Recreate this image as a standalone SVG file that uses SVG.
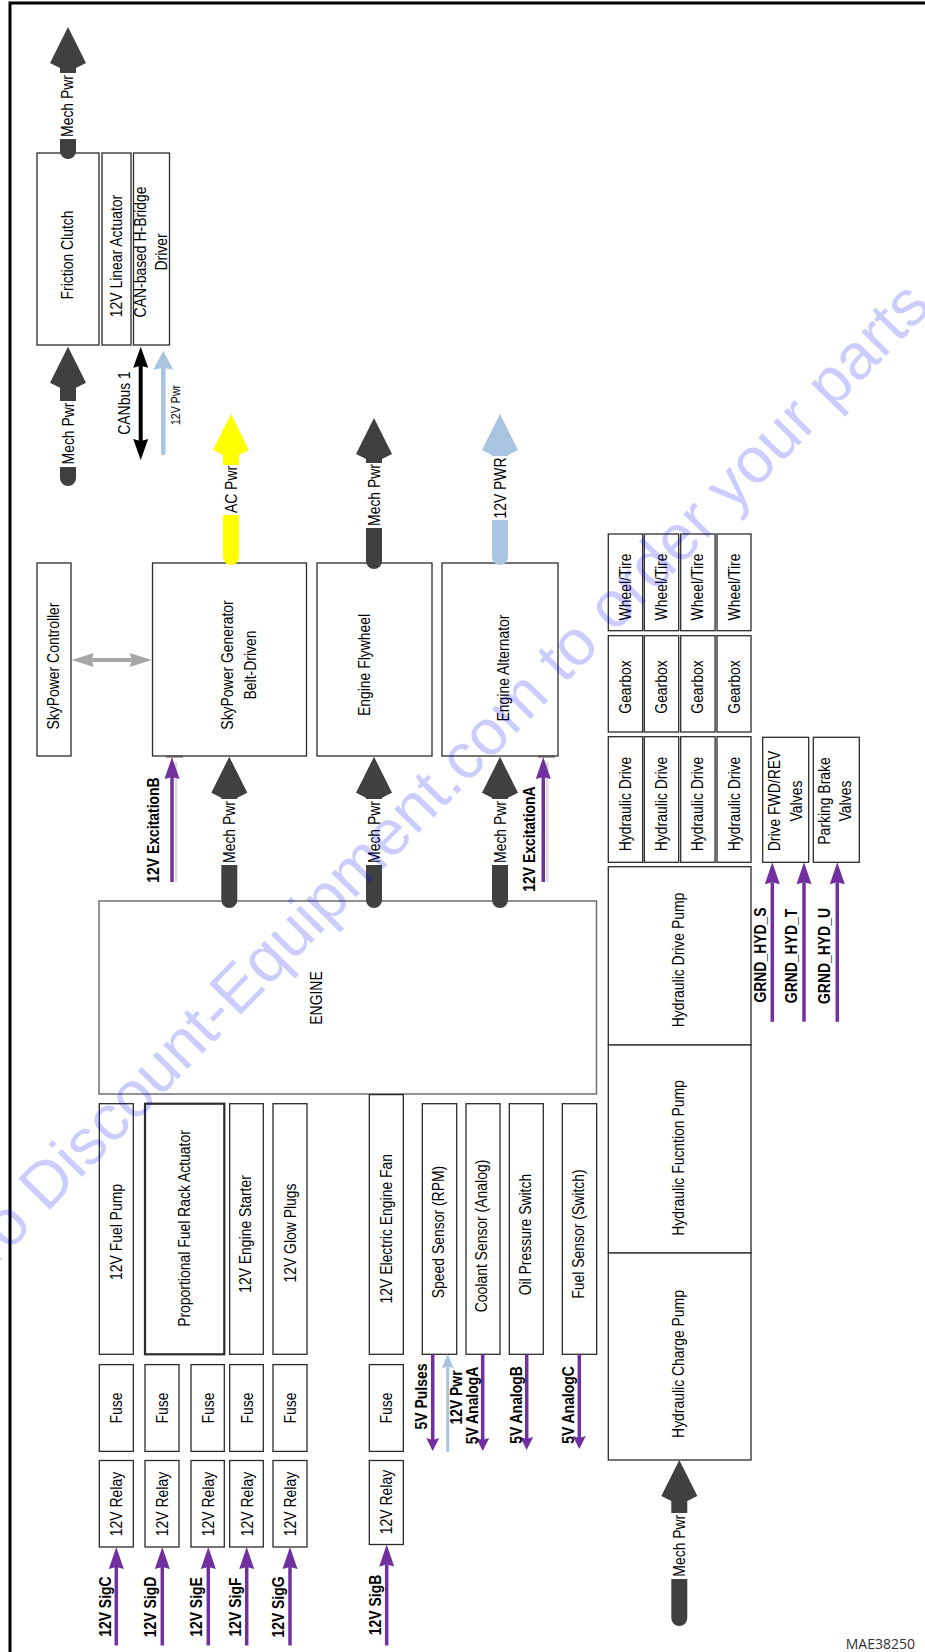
<svg xmlns="http://www.w3.org/2000/svg" width="925" height="1652" viewBox="0 0 925 1652">
<style>
.box{fill:#fff;stroke:#2b2b2b;stroke-width:1.3}
.eng{fill:#fff;stroke:#6e6e6e;stroke-width:1.5}
.t{font-family:"Liberation Sans",Arial,sans-serif;font-size:17px;fill:#000;text-anchor:middle}
.b{font-weight:bold}
.s{font-size:13px}
.fat{fill:none;stroke-width:16;stroke-linecap:round}
.dk{stroke:#404040}
.yl{stroke:#ffff00}
.bl{stroke:#a9c4e0}
.pu{fill:none;stroke:#7030a0;stroke-width:3.5}
.bg{fill:#fff}
.wm{font-family:"Liberation Sans",Arial,sans-serif;font-size:64.6px;fill:#0000ff;fill-opacity:0.2}
</style>
<defs>
<marker id="fatDk" markerUnits="userSpaceOnUse" orient="auto" viewBox="-2 -20 46 40" markerWidth="46" markerHeight="40" refX="0" refY="0"><path d="M41,0 L5,-18 L0,-8 L0,8 L5,18 Z" fill="#404040"/></marker>
<marker id="fatYl" markerUnits="userSpaceOnUse" orient="auto" viewBox="-2 -20 46 40" markerWidth="46" markerHeight="40" refX="0" refY="0"><path d="M41,0 L5,-18 L0,-8 L0,8 L5,18 Z" fill="#ffff00"/></marker>
<marker id="fatBl" markerUnits="userSpaceOnUse" orient="auto" viewBox="-2 -20 46 40" markerWidth="46" markerHeight="40" refX="0" refY="0"><path d="M41,0 L5,-18 L0,-8 L0,8 L5,18 Z" fill="#a9c4e0"/></marker>
<marker id="pu" markerUnits="userSpaceOnUse" orient="auto" viewBox="-4 -10 26 20" markerWidth="26" markerHeight="20" refX="0" refY="0"><path d="M20,0 L-2,-7.5 L0,0 L-2,7.5 Z" fill="#7030a0"/></marker>
<marker id="puS" markerUnits="userSpaceOnUse" orient="auto" viewBox="-4 -10 26 20" markerWidth="26" markerHeight="20" refX="0" refY="0"><path d="M11,0 L-2,-6.5 L0,0 L-2,6.5 Z" fill="#7030a0"/></marker>
<marker id="blS" markerUnits="userSpaceOnUse" orient="auto" viewBox="-4 -10 26 20" markerWidth="26" markerHeight="20" refX="0" refY="0"><path d="M12,0 L-2,-6 L0,0 L-2,6 Z" fill="#a9c4e0"/></marker>
<marker id="blM" markerUnits="userSpaceOnUse" orient="auto" viewBox="-4 -12 26 24" markerWidth="26" markerHeight="24" refX="0" refY="0"><path d="M17,0 L-2,-10 L0,0 L-2,10 Z" fill="#a9c4e0"/></marker>
<marker id="blk" markerUnits="userSpaceOnUse" orient="auto-start-reverse" viewBox="-4 -10 26 20" markerWidth="26" markerHeight="20" refX="0" refY="0"><path d="M19,0 L-2,-7.5 L0,0 L-2,7.5 Z" fill="#000"/></marker>
<marker id="gry" markerUnits="userSpaceOnUse" orient="auto-start-reverse" viewBox="-4 -10 26 20" markerWidth="26" markerHeight="20" refX="0" refY="0"><path d="M20,0 L-2,-7 L0,0 L-2,7 Z" fill="#a6a6a6"/></marker>
</defs>

<path d="M10,1652 V3 H925" fill="none" stroke="#000" stroke-width="3"/>

<g id="friction-clutch"><rect class="box" x="37" y="153" width="62" height="192"/><text class="t" transform="translate(67,255) rotate(-90) scale(.82,1)" y="6.1">Friction Clutch</text></g>
<g id="linear-actuator"><rect class="box" x="102" y="153" width="29" height="192"/><text class="t" transform="translate(116.3,256) rotate(-90) scale(.82,1)" y="6.1">12V Linear Actuator</text></g>
<g id="hbridge-driver"><rect class="box" x="133.5" y="153" width="36" height="192"/><text class="t" transform="translate(139.4,252) rotate(-90) scale(.82,1)" y="6.1">CAN-based H-Bridge</text><text class="t" transform="translate(161.1,252) rotate(-90) scale(.82,1)" y="6.1">Driver</text></g>
<g id="skypower-controller"><rect class="box" x="37" y="563" width="34" height="193"/><text class="t" transform="translate(53,666) rotate(-90) scale(.82,1)" y="6.1">SkyPower Controller</text></g>
<g id="skypower-generator"><rect class="box" x="152.5" y="563" width="154" height="193"/><text class="t" transform="translate(226.8,665) rotate(-90) scale(.82,1)" y="6.1">SkyPower Generator</text><text class="t" transform="translate(249.4,665) rotate(-90) scale(.82,1)" y="6.1">Belt-Driven</text></g>
<g id="engine-flywheel"><rect class="box" x="317" y="563" width="115" height="193"/><text class="t" transform="translate(363.4,665) rotate(-90) scale(.82,1)" y="6.1">Engine Flywheel</text></g>
<g id="engine-alternator"><rect class="box" x="442" y="563" width="116" height="193"/><text class="t" transform="translate(502.8,668) rotate(-90) scale(.82,1)" y="6.1">Engine Alternator</text></g>
<g id="engine"><rect class="eng" x="99" y="901" width="497.5" height="193"/><text class="t" transform="translate(316,998) rotate(-90) scale(.82,1)" y="6.1">ENGINE</text></g>

<g id="wheel-1"><rect class="box" x="608.3" y="534" width="34.4" height="96.7"/><text class="t" transform="translate(625,587) rotate(-90) scale(.82,1)" y="6.1">Wheel/Tire</text></g>
<g id="wheel-2"><rect class="box" x="644.3" y="534" width="34.4" height="96.7"/><text class="t" transform="translate(661,587) rotate(-90) scale(.82,1)" y="6.1">Wheel/Tire</text></g>
<g id="wheel-3"><rect class="box" x="680.7" y="534" width="34.4" height="96.7"/><text class="t" transform="translate(697.2,587) rotate(-90) scale(.82,1)" y="6.1">Wheel/Tire</text></g>
<g id="wheel-4"><rect class="box" x="717" y="534" width="34" height="96.7"/><text class="t" transform="translate(733.4,587) rotate(-90) scale(.82,1)" y="6.1">Wheel/Tire</text></g>
<g id="gearbox-1"><rect class="box" x="608.3" y="635.7" width="34.4" height="96.3"/><text class="t" transform="translate(625,687) rotate(-90) scale(.82,1)" y="6.1">Gearbox</text></g>
<g id="gearbox-2"><rect class="box" x="644.3" y="635.7" width="34.4" height="96.3"/><text class="t" transform="translate(661,687) rotate(-90) scale(.82,1)" y="6.1">Gearbox</text></g>
<g id="gearbox-3"><rect class="box" x="680.7" y="635.7" width="34.4" height="96.3"/><text class="t" transform="translate(697.2,687) rotate(-90) scale(.82,1)" y="6.1">Gearbox</text></g>
<g id="gearbox-4"><rect class="box" x="717" y="635.7" width="34" height="96.3"/><text class="t" transform="translate(733.4,687) rotate(-90) scale(.82,1)" y="6.1">Gearbox</text></g>
<g id="hyd-drive-1"><rect class="box" x="608.3" y="736.7" width="34.4" height="125.6"/><text class="t" transform="translate(625,804) rotate(-90) scale(.82,1)" y="6.1">Hydraulic Drive</text></g>
<g id="hyd-drive-2"><rect class="box" x="644.3" y="736.7" width="34.4" height="125.6"/><text class="t" transform="translate(661,804) rotate(-90) scale(.82,1)" y="6.1">Hydraulic Drive</text></g>
<g id="hyd-drive-3"><rect class="box" x="680.7" y="736.7" width="34.4" height="125.6"/><text class="t" transform="translate(697.2,804) rotate(-90) scale(.82,1)" y="6.1">Hydraulic Drive</text></g>
<g id="hyd-drive-4"><rect class="box" x="717" y="736.7" width="34" height="125.6"/><text class="t" transform="translate(733.4,804) rotate(-90) scale(.82,1)" y="6.1">Hydraulic Drive</text></g>
<g id="drive-valves"><rect class="box" x="762.7" y="737.3" width="46" height="125"/><text class="t" transform="translate(773.8,801) rotate(-90) scale(.82,1)" y="6.1">Drive FWD/REV</text><text class="t" transform="translate(795.4,801) rotate(-90) scale(.82,1)" y="6.1">Valves</text></g>
<g id="parking-valves"><rect class="box" x="813.3" y="737.3" width="46" height="125"/><text class="t" transform="translate(824.1,801) rotate(-90) scale(.82,1)" y="6.1">Parking Brake</text><text class="t" transform="translate(845.1,801) rotate(-90) scale(.82,1)" y="6.1">Valves</text></g>
<g id="hyd-drive-pump"><rect class="box" x="608.3" y="866.7" width="142.7" height="178.3"/><text class="t" transform="translate(678,960) rotate(-90) scale(.82,1)" y="6.1">Hydraulic Drive Pump</text></g>
<g id="hyd-function-pump"><rect class="box" x="608.3" y="1045" width="142.7" height="208"/><text class="t" transform="translate(678,1158) rotate(-90) scale(.82,1)" y="6.1">Hydraulic Fucntion Pump</text></g>
<g id="hyd-charge-pump"><rect class="box" x="608.3" y="1253" width="142.7" height="207"/><text class="t" transform="translate(678,1364) rotate(-90) scale(.82,1)" y="6.1">Hydraulic Charge Pump</text></g>

<g id="fuel-pump"><rect class="box" x="99.3" y="1103.7" width="34" height="250.6"/><text class="t" transform="translate(115.5,1232) rotate(-90) scale(.82,1)" y="6.1">12V Fuel Pump</text></g>
<g id="fuel-rack-actuator"><rect class="box" x="145" y="1103.7" width="79.3" height="250.6" style="stroke-width:2.2"/><text class="t" transform="translate(183.5,1228.5) rotate(-90) scale(.82,1)" y="6.1">Proportional Fuel Rack Actuator</text></g>
<g id="engine-starter"><rect class="box" x="229.7" y="1103.7" width="33.6" height="250.6"/><text class="t" transform="translate(245,1234) rotate(-90) scale(.82,1)" y="6.1">12V Engine Starter</text></g>
<g id="glow-plugs"><rect class="box" x="273" y="1103.7" width="34" height="250.6"/><text class="t" transform="translate(289.4,1233) rotate(-90) scale(.82,1)" y="6.1">12V Glow Plugs</text></g>
<g id="engine-fan"><rect class="box" x="369.3" y="1094.6" width="34" height="259.7"/><text class="t" transform="translate(385.4,1228.7) rotate(-90) scale(.82,1)" y="6.1">12V Electric Engine Fan</text></g>
<g id="speed-sensor"><rect class="box" x="422.3" y="1103.7" width="34.4" height="250.6"/><text class="t" transform="translate(437.8,1232) rotate(-90) scale(.82,1)" y="6.1">Speed Sensor (RPM)</text></g>
<g id="coolant-sensor"><rect class="box" x="466" y="1103.7" width="34" height="250.6"/><text class="t" transform="translate(481,1236) rotate(-90) scale(.82,1)" y="6.1">Coolant Sensor (Analog)</text></g>
<g id="oil-pressure-switch"><rect class="box" x="509.3" y="1103.7" width="34" height="250.6"/><text class="t" transform="translate(524.4,1234.6) rotate(-90) scale(.82,1)" y="6.1">Oil Pressure Switch</text></g>
<g id="fuel-sensor"><rect class="box" x="562.3" y="1103.7" width="34.4" height="250.6"/><text class="t" transform="translate(577.8,1234) rotate(-90) scale(.82,1)" y="6.1">Fuel Sensor (Switch)</text></g>

<g id="fuse-c"><rect class="box" x="99.3" y="1364.6" width="34" height="86.8"/><text class="t" transform="translate(116.3,1408) rotate(-90) scale(.82,1)" y="6.1">Fuse</text></g>
<g id="fuse-d"><rect class="box" x="145" y="1364.6" width="34" height="86.8"/><text class="t" transform="translate(162,1408) rotate(-90) scale(.82,1)" y="6.1">Fuse</text></g>
<g id="fuse-e"><rect class="box" x="191" y="1364.6" width="33.3" height="86.8"/><text class="t" transform="translate(207.6,1408) rotate(-90) scale(.82,1)" y="6.1">Fuse</text></g>
<g id="fuse-f"><rect class="box" x="229.7" y="1364.6" width="33.6" height="86.8"/><text class="t" transform="translate(246.5,1408) rotate(-90) scale(.82,1)" y="6.1">Fuse</text></g>
<g id="fuse-g"><rect class="box" x="273" y="1364.6" width="34" height="86.8"/><text class="t" transform="translate(290,1408) rotate(-90) scale(.82,1)" y="6.1">Fuse</text></g>
<g id="fuse-b"><rect class="box" x="369.3" y="1364.6" width="34" height="86.8"/><text class="t" transform="translate(386.3,1408) rotate(-90) scale(.82,1)" y="6.1">Fuse</text></g>
<g id="relay-c"><rect class="box" x="99.3" y="1460.5" width="34" height="86.5"/><text class="t" transform="translate(116.3,1504) rotate(-90) scale(.82,1)" y="6.1">12V Relay</text></g>
<g id="relay-d"><rect class="box" x="145" y="1460.5" width="34" height="86.5"/><text class="t" transform="translate(162,1504) rotate(-90) scale(.82,1)" y="6.1">12V Relay</text></g>
<g id="relay-e"><rect class="box" x="191" y="1460.5" width="33.3" height="86.5"/><text class="t" transform="translate(207.6,1504) rotate(-90) scale(.82,1)" y="6.1">12V Relay</text></g>
<g id="relay-f"><rect class="box" x="229.7" y="1460.5" width="33.6" height="86.5"/><text class="t" transform="translate(246.5,1504) rotate(-90) scale(.82,1)" y="6.1">12V Relay</text></g>
<g id="relay-g"><rect class="box" x="273" y="1460.5" width="34" height="86.5"/><text class="t" transform="translate(290,1504) rotate(-90) scale(.82,1)" y="6.1">12V Relay</text></g>
<g id="relay-b"><rect class="box" x="369.3" y="1460.5" width="34" height="84"/><text class="t" transform="translate(386.3,1502) rotate(-90) scale(.82,1)" y="6.1">12V Relay</text></g>

<g id="connectors">
<path class="fat dk" d="M68,151 V68" marker-end="url(#fatDk)"/>
<rect class="bg" x="58" y="73" width="20" height="66"/>
<text class="t" transform="translate(67,106) rotate(-90) scale(.82,1)" y="6.1">Mech Pwr</text>

<path class="fat dk" d="M68,478 V387.7" marker-end="url(#fatDk)"/>
<rect class="bg" x="58" y="401" width="20" height="66"/>
<text class="t" transform="translate(68,433.5) rotate(-90) scale(.82,1)" y="6.1">Mech Pwr</text>

<path class="fat yl" d="M231,557 V455" marker-end="url(#fatYl)"/>
<rect class="bg" x="221" y="465" width="20" height="50"/>
<text class="t" transform="translate(230.5,489.5) rotate(-90) scale(.82,1)" y="6.1">AC Pwr</text>

<path class="fat dk" d="M374,561 V459" marker-end="url(#fatDk)"/>
<rect class="bg" x="364" y="463" width="20" height="65"/>
<text class="t" transform="translate(373.5,495) rotate(-90) scale(.82,1)" y="6.1">Mech Pwr</text>

<path class="fat bl" d="M500,557 V455" marker-end="url(#fatBl)"/>
<rect class="bg" x="490" y="456" width="20" height="64"/>
<text class="t" transform="translate(499.5,488) rotate(-90) scale(.82,1)" y="6.1">12V PWR</text>

<path class="fat dk" d="M229.3,900 V797.7" marker-end="url(#fatDk)"/>
<rect class="bg" x="219" y="799" width="20" height="66"/>
<text class="t" transform="translate(229,832) rotate(-90) scale(.82,1)" y="6.1">Mech Pwr</text>

<path class="fat dk" d="M374,900 V797.7" marker-end="url(#fatDk)"/>
<rect class="bg" x="364" y="799" width="20" height="66"/>
<text class="t" transform="translate(373.7,832) rotate(-90) scale(.82,1)" y="6.1">Mech Pwr</text>

<path class="fat dk" d="M500,900 V797.7" marker-end="url(#fatDk)"/>
<rect class="bg" x="490" y="799" width="20" height="66"/>
<text class="t" transform="translate(499.7,832) rotate(-90) scale(.82,1)" y="6.1">Mech Pwr</text>

<path class="fat dk" d="M679.3,1618 V1501" marker-end="url(#fatDk)"/>
<rect class="bg" x="669" y="1513" width="20" height="66"/>
<text class="t" transform="translate(679,1545.7) rotate(-90) scale(.82,1)" y="6.1">Mech Pwr</text>

<path d="M140.7,365.7 V441" fill="none" stroke="#000" stroke-width="4" marker-start="url(#blk)" marker-end="url(#blk)"/>
<text class="t" transform="translate(123.4,403) rotate(-90) scale(.82,1)" y="6.1">CANbus 1</text>
<path d="M163.3,453 V367.7" fill="none" stroke="#a9c4e0" stroke-width="4.5" stroke-linecap="round" marker-end="url(#blM)"/>
<text class="t s" transform="translate(175,405) rotate(-90) scale(.82,1)" y="4.7">12V Pwr</text>

<path d="M91.7,660 H131.7" fill="none" stroke="#a6a6a6" stroke-width="4" marker-start="url(#gry)" marker-end="url(#gry)"/>

<path d="M176,762 V882" fill="none" stroke="#dcdcdc" stroke-width="2.5"/>
<path d="M166,756.5 H183" stroke="#555" stroke-width="2"/>
<path class="pu" d="M172,882 V777" marker-end="url(#pu)"/>
<text class="t b" transform="translate(152.8,830) rotate(-90) scale(.82,1)" y="6.1">12V ExcitationB</text>
<path d="M547.3,762 V882" fill="none" stroke="#dcdcdc" stroke-width="2.5"/>
<path d="M538,756.5 H555" stroke="#555" stroke-width="2"/>
<path class="pu" d="M543.3,882 V777" marker-end="url(#pu)"/>
<text class="t b" transform="translate(528.8,839) rotate(-90) scale(.82,1)" y="6.1">12V ExcitationA</text>

<path class="pu" d="M772.3,1021.7 V882.3" marker-end="url(#pu)"/>
<text class="t b" transform="translate(759.8,955) rotate(-90) scale(.82,1)" y="6.1">GRND_HYD_S</text>
<path class="pu" d="M804,1021.7 V882.3" marker-end="url(#pu)"/>
<text class="t b" transform="translate(790.4,956) rotate(-90) scale(.82,1)" y="6.1">GRND_HYD_T</text>
<path class="pu" d="M837.3,1021.7 V882.3" marker-end="url(#pu)"/>
<text class="t b" transform="translate(823.8,956) rotate(-90) scale(.82,1)" y="6.1">GRND_HYD_U</text>

<path class="pu" d="M116.3,1645.5 V1567" marker-end="url(#pu)"/>
<text class="t b" transform="translate(105,1606.6) rotate(-90) scale(.82,1)" y="6.1">12V SigC</text>
<path class="pu" d="M162.3,1645.5 V1567" marker-end="url(#pu)"/>
<text class="t b" transform="translate(149.5,1607) rotate(-90) scale(.82,1)" y="6.1">12V SigD</text>
<path class="pu" d="M208.3,1645.5 V1567" marker-end="url(#pu)"/>
<text class="t b" transform="translate(196.1,1607) rotate(-90) scale(.82,1)" y="6.1">12V SigE</text>
<path class="pu" d="M246.7,1645.5 V1567" marker-end="url(#pu)"/>
<text class="t b" transform="translate(235.2,1607) rotate(-90) scale(.82,1)" y="6.1">12V SigF</text>
<path class="pu" d="M290,1645.5 V1567" marker-end="url(#pu)"/>
<text class="t b" transform="translate(277.8,1607) rotate(-90) scale(.82,1)" y="6.1">12V SigG</text>
<path class="pu" d="M386.7,1645.5 V1564.5" marker-end="url(#pu)"/>
<text class="t b" transform="translate(374.4,1605) rotate(-90) scale(.82,1)" y="6.1">12V SigB</text>

<path class="pu" d="M432.7,1354.3 V1440" marker-end="url(#puS)"/>
<text class="t b" transform="translate(421.1,1396.5) rotate(-90) scale(.82,1)" y="6.1">5V Pulses</text>
<path d="M447.7,1452 V1366.3" fill="none" stroke="#a9c4e0" stroke-width="3" marker-end="url(#blS)"/>
<text class="t b" transform="translate(456.1,1397.5) rotate(-90) scale(.82,1)" y="6.1">12V Pwr</text>
<path class="pu" d="M482.7,1354.3 V1440" marker-end="url(#puS)"/>
<text class="t b" transform="translate(471.8,1405.5) rotate(-90) scale(.82,1)" y="6.1">5V AnalogA</text>
<path class="pu" d="M526.7,1354.3 V1439" marker-end="url(#puS)"/>
<text class="t b" transform="translate(515.4,1405) rotate(-90) scale(.82,1)" y="6.1">5V AnalogB</text>
<path class="pu" d="M579.3,1354.3 V1438" marker-end="url(#puS)"/>
<text class="t b" transform="translate(567.8,1405) rotate(-90) scale(.82,1)" y="6.1">5V AnalogC</text>
</g>

<text x="915" y="1649" text-anchor="end" style="font-family:'Open Sans','Liberation Sans',sans-serif;font-size:14px;fill:#333">MAE38250</text>

<text class="wm" transform="translate(-14,1275) rotate(-45.6)">To Discount-Equipment.com to order your parts</text>
</svg>
